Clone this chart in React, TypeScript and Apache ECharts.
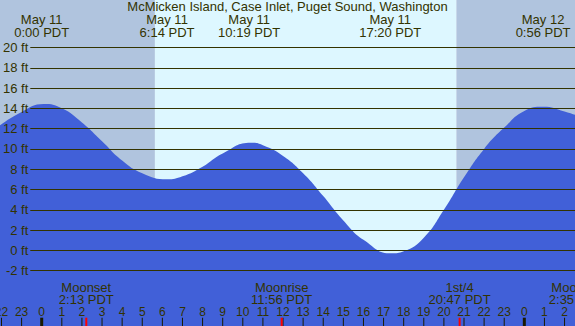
import React, { useEffect, useRef } from "react";
import * as echarts from "echarts";

const TITLE = "McMicken Island, Case Inlet, Puget Sound, Washington";

// x axis: hours since May 11 0:00 PDT
const X_MIN = -2.074;
const X_MAX = 26.52;

// y ticks (ft)
const Y_TICK_MIN = -2;
const Y_TICK_MAX = 20;
const Y_TICK_STEP = 2;

// tide curve
const TIDE_HOURS = [-2.1, -1, 0.1, 1, 2, 3, 4, 5, 6.23, 7, 8, 9, 10.4, 11, 12, 13, 14, 15, 16, 17.4, 18, 19, 20, 21, 22, 23, 24, 24.93, 26, 26.6];
const TIDE_FEET = [12.3, 13.65, 14.42, 14.0, 12.6, 10.75, 8.85, 7.6, 7.0, 7.3, 8.25, 9.55, 10.6, 10.35, 9.3, 7.6, 5.35, 2.95, 1.05, -0.3, -0.1, 1.25, 4.0, 7.2, 10.0, 12.1, 13.75, 14.16, 13.7, 13.3];

// top labels (tide extremes)
const EVENT_HOURS = [0, 6.233, 10.317, 17.333, 24.933];
const EVENT_DATES = ["May 11", "May 11", "May 11", "May 11", "May 12"];
const EVENT_TIMES = ["0:00 PDT", "6:14 PDT", "10:19 PDT", "17:20 PDT", "0:56 PDT"];

// bottom labels (moon)
const MOON_HOURS = [2.217, 11.933, 20.783, 26.583];
const MOON_NAMES = ["Moonset", "Moonrise", "1st/4", "Moonset"];
const MOON_TIMES = ["2:13 PDT", "11:56 PDT", "20:47 PDT", "2:35 PDT"];

// hour ticks
const HOUR_TICKS = [-2, -1, 0, 1, 2, 3, 4, 5, 6, 7, 8, 9, 10, 11, 12, 13, 14, 15, 16, 17, 18, 19, 20, 21, 22, 23, 24, 25, 26];

// sun
const SUNRISE = 5.63;
const SUNSET = 20.62;

const NIGHT = "#B0C4DE";
const DAY = "#DDF7FF";
const WATER = "#4160D8";
const INK = "#333300";
const FONT = "'Liberation Sans', Arial, sans-serif";

const W = 575;
const H = 326;
const G_TOP = 47.5;
const G_BOTTOM = 55.4;
const G_LEFT = 29;

export default function App() {
  const ref = useRef<HTMLDivElement>(null);
  useEffect(() => {
    if (!ref.current) return;
    const chart = echarts.init(ref.current, undefined, { renderer: "svg" });
    const pxPerFt = (H - G_TOP - G_BOTTOM) / (Y_TICK_MAX - Y_TICK_MIN);
    const Y0_MIN = Y_TICK_MIN - G_BOTTOM / pxPerFt;
    const Y0_MAX = Y_TICK_MAX + G_TOP / pxPerFt;

    const shading = [
      [X_MIN, SUNRISE, 0],
      [SUNRISE, SUNSET, 1],
      [SUNSET, X_MAX, 0],
    ];

    const option: any = {
      animation: false,
      title: {
        text: TITLE,
        left: "center",
        top: 0,
        padding: 0,
        textStyle: { fontSize: 13, fontWeight: "normal", color: INK, fontFamily: FONT },
      },
      grid: [
        { left: 0, right: 0, top: 0, bottom: 0 },
        { left: G_LEFT, right: 0, top: G_TOP, bottom: G_BOTTOM },
      ],
      xAxis: [
        { type: "value", gridIndex: 0, min: X_MIN, max: X_MAX, show: false },
        { type: "value", gridIndex: 1, min: X_MIN, max: X_MAX, show: false },
      ],
      yAxis: [
        { type: "value", gridIndex: 0, min: Y0_MIN, max: Y0_MAX, show: false },
        {
          type: "value",
          gridIndex: 1,
          min: Y_TICK_MIN,
          max: Y_TICK_MAX,
          interval: Y_TICK_STEP,
          z: 5,
          axisLine: { show: false },
          axisTick: { show: false },
          axisLabel: {
            formatter: "{value} ft",
            margin: 2,
            color: INK,
            fontSize: 13,
            fontFamily: FONT,
          },
          splitLine: { show: true, lineStyle: { color: INK, width: 1 } },
        },
      ],
      series: [
        {
          type: "custom",
          xAxisIndex: 0,
          yAxisIndex: 0,
          z: 1,
          silent: true,
          data: shading,
          renderItem: (params: any, api: any) => {
            const a = api.coord([api.value(0), Y0_MAX]);
            const b = api.coord([api.value(1), Y0_MIN]);
            return {
              type: "rect",
              shape: { x: a[0], y: a[1], width: b[0] - a[0], height: b[1] - a[1] },
              style: { fill: api.value(2) === 1 ? DAY : NIGHT },
            };
          },
        },
        {
          type: "line",
          xAxisIndex: 0,
          yAxisIndex: 0,
          z: 2,
          silent: true,
          smooth: 0.5,
          symbol: "none",
          lineStyle: { width: 0 },
          areaStyle: { color: WATER, opacity: 1, origin: "start" },
          data: TIDE_HOURS.map((h, i) => [h, TIDE_FEET[i]]),
        },
        {
          type: "custom",
          xAxisIndex: 0,
          yAxisIndex: 0,
          z: 6,
          silent: true,
          data: HOUR_TICKS.map((h) => [h, 0]),
          renderItem: (params: any, api: any) => {
            const h = api.value(0);
            const x = api.coord([h, 0])[0];
            const cs = params.coordSys;
            const bottom = cs.y + cs.height;
            const lab = ((h % 24) + 24) % 24;
            const mid = lab === 0;
            return {
              type: "group",
              children: [
                {
                  type: "rect",
                  shape: { x: mid ? x - 1.5 : x - 0.5, y: bottom - 8.3, width: mid ? 3 : 1, height: 8.3 },
                  style: { fill: "#1a1a00" },
                },
                {
                  type: "text",
                  style: {
                    text: String(lab),
                    x,
                    y: bottom - 14.3,
                    align: "center",
                    verticalAlign: "middle",
                    fill: INK,
                    fontSize: 12,
                    fontFamily: FONT,
                  },
                },
              ],
            };
          },
        },
        {
          type: "custom",
          xAxisIndex: 0,
          yAxisIndex: 0,
          z: 6,
          silent: true,
          data: EVENT_HOURS.map((h, i) => [h, 0, i]),
          renderItem: (params: any, api: any) => {
            const i = api.value(2);
            const x = api.coord([api.value(0), 0])[0];
            const cs = params.coordSys;
            return {
              type: "group",
              children: [
                {
                  type: "text",
                  style: { text: EVENT_DATES[i], x, y: cs.y + 19.5, align: "center", verticalAlign: "middle", fill: INK, fontSize: 13, fontFamily: FONT },
                },
                {
                  type: "text",
                  style: { text: EVENT_TIMES[i], x, y: cs.y + 32, align: "center", verticalAlign: "middle", fill: INK, fontSize: 13, fontFamily: FONT },
                },
              ],
            };
          },
        },
        {
          type: "custom",
          xAxisIndex: 0,
          yAxisIndex: 0,
          z: 6,
          silent: true,
          data: MOON_HOURS.map((h, i) => [h, 0, i]),
          renderItem: (params: any, api: any) => {
            const i = api.value(2);
            const x = api.coord([api.value(0), 0])[0];
            const cs = params.coordSys;
            const bottom = cs.y + cs.height;
            return {
              type: "group",
              children: [
                {
                  type: "rect",
                  shape: { x: x - 1, y: bottom - 8.3, width: 2, height: 8.3 },
                  style: { fill: "#ff0000" },
                },
                {
                  type: "text",
                  style: { text: MOON_NAMES[i], x, y: bottom - 38.5, align: "center", verticalAlign: "middle", fill: INK, fontSize: 13, fontFamily: FONT },
                },
                {
                  type: "text",
                  style: { text: MOON_TIMES[i], x, y: bottom - 26.5, align: "center", verticalAlign: "middle", fill: INK, fontSize: 13, fontFamily: FONT },
                },
              ],
            };
          },
        },
      ],
    };
    chart.setOption(option);
    return () => chart.dispose();
  }, []);
  return <div ref={ref} style={{ position: "absolute", left: 0, top: 0, width: W, height: H }} />;
}
